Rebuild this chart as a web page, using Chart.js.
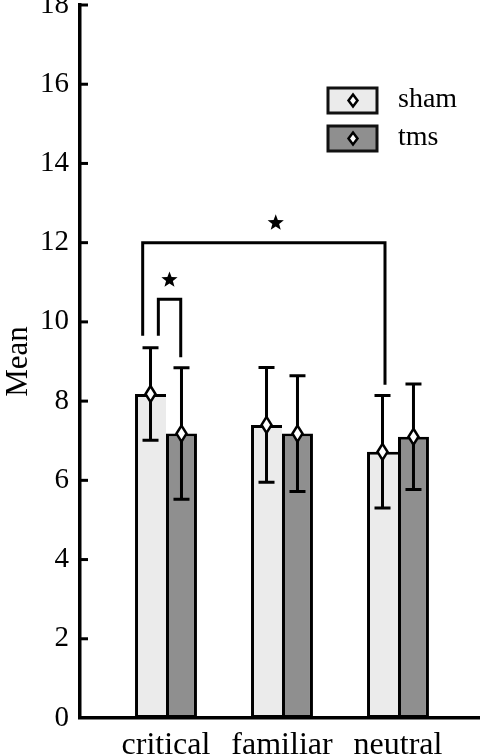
<!DOCTYPE html>
<html>
<head>
<meta charset="utf-8">
<script src="https://cdn.jsdelivr.net/npm/chart.js@4.4.1/dist/chart.umd.min.js"></script>
<style>
  html, body { margin: 0; padding: 0; background: #fff; }
  #wrap { width: 480px; height: 756px; position: relative; }
</style>
</head>
<body>
<div id="wrap"><canvas id="chart"></canvas></div>
<script>
// values
const categories = ["critical", "familiar", "neutral"];
const positions = [1, 2, 3];
const shamMean = [8.18, 7.40, 6.72];
const shamErr = [1.17, 1.45, 1.42];
const tmsMean = [7.18, 7.18, 7.10];
const tmsErr = [1.66, 1.46, 1.33];
const seriesNames = ["sham", "tms"];

// significance brackets: x ends (axis units), top value, leg bottoms
const bracketX = [[0.799, 2.888], [0.934, 1.127]];
const bracketTop = [12.0, 10.57];
const bracketLegs = [[9.65, 8.41], [9.65, 9.11]];
const starPos = [[1.946, 12.5], [1.03, 11.06]];

const SERIF = "'Liberation Serif', 'DejaVu Serif', serif";
const shamFill = "#ebebeb";
const tmsFill = "#8f8f8f";

function diamond(ctx, x, y, hw, hh) {
  ctx.beginPath();
  ctx.moveTo(x, y - hh);
  ctx.lineTo(x + hw, y);
  ctx.lineTo(x, y + hh);
  ctx.lineTo(x - hw, y);
  ctx.closePath();
  ctx.fillStyle = "#fff";
  ctx.fill();
  ctx.lineWidth = 2.5;
  ctx.strokeStyle = "#000";
  ctx.stroke();
}

function star(ctx, x, y, r) {
  ctx.beginPath();
  for (let k = 0; k < 10; k++) {
    const rr = k % 2 === 0 ? r : r * 0.42;
    const a = -Math.PI / 2 + k * Math.PI / 5;
    const px = x + rr * Math.cos(a), py = y + rr * Math.sin(a);
    if (k === 0) ctx.moveTo(px, py); else ctx.lineTo(px, py);
  }
  ctx.closePath();
  ctx.fillStyle = "#000";
  ctx.fill();
}

const extras = {
  id: "extras",
  afterDatasetsDraw(chart) {
    const ctx = chart.ctx;
    const xs = chart.scales.x, ys = chart.scales.y;
    const area = chart.chartArea;
    ctx.save();
    ctx.lineCap = "butt";

    // inward y ticks
    ctx.strokeStyle = "#000";
    ctx.lineWidth = 3;
    ys.ticks.forEach(t => {
      if (t.value === 0) return;
      const y = ys.getPixelForValue(t.value);
      ctx.beginPath();
      ctx.moveTo(area.left, y);
      ctx.lineTo(area.left + 8, y);
      ctx.stroke();
    });

    // error bars + diamonds
    const means = [shamMean, tmsMean], errs = [shamErr, tmsErr];
    [0, 1].forEach(d => {
      const meta = chart.getDatasetMeta(d);
      meta.data.forEach((bar, i) => {
        const x = bar.x;
        const top = ys.getPixelForValue(means[d][i] + errs[d][i]);
        const bot = ys.getPixelForValue(means[d][i] - errs[d][i]);
        ctx.strokeStyle = "#000";
        ctx.lineWidth = 3;
        ctx.beginPath();
        ctx.moveTo(x, top); ctx.lineTo(x, bot);
        ctx.moveTo(x - 8, top); ctx.lineTo(x + 8, top);
        ctx.moveTo(x - 8, bot); ctx.lineTo(x + 8, bot);
        ctx.stroke();
      });
    });
    [0, 1].forEach(d => {
      const meta = chart.getDatasetMeta(d);
      meta.data.forEach((bar, i) => {
        diamond(ctx, bar.x, ys.getPixelForValue(means[d][i]), 5, 8);
      });
    });

    // brackets and stars
    ctx.strokeStyle = "#000";
    ctx.lineWidth = 3;
    bracketX.forEach((bx, i) => {
      const x0 = xs.getPixelForValue(bx[0]), x1 = xs.getPixelForValue(bx[1]);
      const yt = ys.getPixelForValue(bracketTop[i]);
      ctx.beginPath();
      ctx.moveTo(x0, ys.getPixelForValue(bracketLegs[i][0]));
      ctx.lineTo(x0, yt);
      ctx.lineTo(x1, yt);
      ctx.lineTo(x1, ys.getPixelForValue(bracketLegs[i][1]));
      ctx.stroke();
    });
    starPos.forEach(s => star(ctx, xs.getPixelForValue(s[0]), ys.getPixelForValue(s[1]), 8.5));

    // legend
    const fills = [shamFill, tmsFill];
    const boxY = [88, 126];
    seriesNames.forEach((name, i) => {
      ctx.fillStyle = fills[i];
      ctx.fillRect(328, boxY[i], 49, 25);
      ctx.strokeStyle = "#111";
      ctx.lineWidth = 3;
      ctx.strokeRect(328, boxY[i], 49, 25);
      diamond(ctx, 353, boxY[i] + 12.5, 4.5, 6);
      ctx.fillStyle = "#000";
      ctx.font = "28px " + SERIF;
      ctx.textAlign = "left";
      ctx.textBaseline = "middle";
      ctx.fillText(name, 398, boxY[i] + 12);
    });
    ctx.restore();
  }
};

new Chart(document.getElementById("chart"), {
  type: "bar",
  data: {
    datasets: [
      {
        label: seriesNames[0],
        data: positions.map((p, i) => ({ x: p, y: shamMean[i] })),
        backgroundColor: shamFill,
        borderColor: "#000",
        borderWidth: 3,
        borderSkipped: "right"
      },
      {
        label: seriesNames[1],
        data: positions.map((p, i) => ({ x: p, y: tmsMean[i] })),
        backgroundColor: tmsFill,
        borderColor: "#000",
        borderWidth: 3,
        borderSkipped: false
      }
    ]
  },
  options: {
    responsive: true,
    maintainAspectRatio: false,
    animation: false,
    events: [],
    datasets: { bar: { categoryPercentage: 0.534, barPercentage: 1.0 } },
    layout: { padding: { top: 5, right: 0, left: 0, bottom: 0 } },
    plugins: { legend: { display: false }, tooltip: { enabled: false } },
    scales: {
      x: {
        type: "linear",
        offset: false,
        min: 0.2586,
        max: 3.707,
        grid: { display: false, drawTicks: false },
        border: { display: true, color: "#000", width: 3.5 },
        afterFit(s) { s.height = 38; s.paddingLeft = 0; s.paddingRight = 0; },
        afterBuildTicks(s) {
          s.ticks = positions.map(p => ({ value: p }));
        },
        ticks: {
          autoSkip: false,
          maxRotation: 0,
          padding: 8,
          color: "#000",
          font: { family: SERIF, size: 32 },
          callback: v => (positions.indexOf(v) >= 0 ? categories[positions.indexOf(v)] : "")
        }
      },
      y: {
        min: 0,
        max: 18,
        grid: { display: false, drawTicks: false },
        border: { display: true, color: "#000", width: 3.5 },
        afterFit(s) { s.width = 80; s.paddingTop = 0; s.paddingBottom = 0; },
        ticks: {
          stepSize: 2,
          padding: 11,
          color: "#000",
          font: { family: SERIF, size: 29 }
        },
        title: {
          display: true,
          text: "Mean",
          color: "#000",
          padding: 0,
          font: { family: SERIF, size: 31 }
        }
      }
    }
  },
  plugins: [extras]
});
</script>
</body>
</html>
